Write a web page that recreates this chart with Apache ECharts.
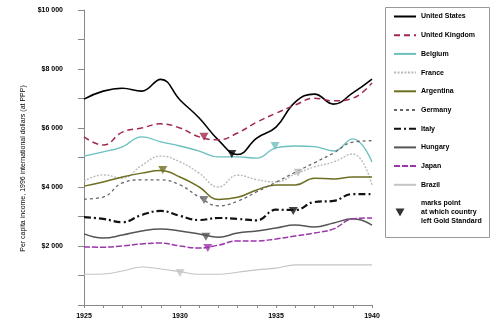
<!DOCTYPE html>
<html><head><meta charset="utf-8">
<script src="https://cdn.jsdelivr.net/npm/echarts@6/dist/echarts.min.js"></script>
<style>html,body{margin:0;padding:0;background:#fff}#c{width:500px;height:331px}</style>
</head><body><div id="c"></div>
<script>
const years = [1925,1926,1927,1928,1929,1930,1931,1932,1933,1934,1935,1936,1937,1938,1939,1940];
const unitedStates  = [6980,7250,7350,7250,7650,6950,6340,5590,5100,5660,6030,6880,7150,6810,7190,7660];
const unitedKingdom = [5700,5420,5860,6000,6140,6000,5700,5600,5830,6200,6500,6780,7010,6920,7010,7530];
const belgium       = [5050,5190,5360,5700,5530,5390,5220,5020,5020,4980,5330,5390,5370,5220,5630,4850];
const france        = [4200,4410,4300,4730,5050,4850,4470,4000,4400,4250,4170,4440,4680,4850,5120,4070];
const argentina     = [4030,4170,4340,4470,4560,4340,4000,3580,3650,3900,4070,4070,4300,4270,4340,4340];
const germany       = [3590,3660,4140,4240,4240,4070,3660,3360,3520,3840,4160,4500,4820,5150,5520,5570];
const italy         = [2980,2920,2810,3050,3190,3020,2880,2950,2920,2870,3230,3220,3490,3530,3760,3760];
const hungary       = [2410,2270,2370,2510,2580,2510,2410,2300,2440,2510,2610,2710,2640,2780,2920,2710];
const japan         = [1970,1960,2000,2070,2100,2000,1930,2030,2170,2170,2240,2340,2440,2580,2920,2950];
const brazil        = [1040,1050,1150,1290,1220,1130,1040,1040,1110,1190,1250,1360,1360,1360,1360,1360];

const seriesNames = ['United States','United Kingdom','Belgium','France','Argentina','Germany','Italy','Hungary','Japan','Brazil'];
const goldName = 'gold';
const goldLabel = 'marks point\nat which country\nleft Gold Standard';
const goldYears  = [1932.7, 1931.25, 1934.95, 1936.15, 1929.1, 1931.25, 1935.9, 1931.35, 1931.45, 1930.0];
const goldValues = [5120, 5700, 5390, 4480, 4580, 3560, 3190, 2310, 1930, 1085];

const xTickLabels = [1925, 1930, 1935, 1940];
const yTickLabels = [2000, 4000, 6000, 8000, 10000];

const allValues = [unitedStates, unitedKingdom, belgium, france, argentina, germany, italy, hungary, japan, brazil];
const styles = [
  {color:'#000000', width:1.6, type:'solid'},
  {color:'#a0284a', width:1.5, type:[6,4]},
  {color:'#6cbfbf', width:1.3, type:'solid'},
  {color:'#b8b8b8', width:1.3, type:[2,1.5]},
  {color:'#6e6e22', width:1.5, type:'solid'},
  {color:'#666666', width:1.3, type:[3,3]},
  {color:'#111111', width:2.2, type:[7,3,2,3]},
  {color:'#555555', width:1.5, type:'solid'},
  {color:'#9a35aa', width:1.5, type:[6,2]},
  {color:'#c4c4c4', width:1.1, type:'solid'}
];

const series = seriesNames.map((n, i) => ({
  name: n, type: 'line', smooth: 0.45, symbol: 'none', z: 2,
  lineStyle: {color: styles[i].color, width: styles[i].width, type: styles[i].type},
  itemStyle: {color: styles[i].color},
  data: years.map((y, k) => [y, allValues[i][k]])
}));
series.push({
  name: goldName, type: 'scatter', symbol: 'triangle', symbolRotate: 180, symbolSize: [9, 8], z: 5,
  itemStyle: {color: '#000'},
  data: goldYears.map((y, k) => ({value: [y, goldValues[k]], itemStyle: {color: styles[k].color}}))
});

const chart = echarts.init(document.getElementById('c'));
chart.setOption({
  animation: false,
  backgroundColor: '#fff',
  textStyle: {fontFamily: 'Liberation Sans, Arial, sans-serif'},
  grid: {left: 84, right: 128, top: 10, bottom: 26},
  xAxis: {
    type: 'value', min: 1925, max: 1940, interval: 1,
    axisLine: {lineStyle: {color: '#888', width: 1}},
    axisTick: {show: true, length: 3, lineStyle: {color: '#888'}},
    splitLine: {show: false},
    axisLabel: {
      margin: 8, fontSize: 7, fontWeight: 'bold', color: '#000',
      formatter: v => xTickLabels.includes(v) ? String(v) : ''
    }
  },
  yAxis: {
    type: 'value', min: 0, max: 10000, interval: 1000,
    name: 'Per capita income, 1996 international dollars (at PPP)',
    nameLocation: 'middle', nameGap: 56,
    nameTextStyle: {fontSize: 7, color: '#000', padding: [0, 22, 0, 0]},
    axisLine: {show: true, lineStyle: {color: '#888', width: 1}},
    axisTick: {show: true, length: 6, lineStyle: {color: '#888'}},
    splitLine: {show: false},
    axisLabel: {
      margin: 21, fontSize: 7, fontWeight: 'bold', color: '#000',
      formatter: v => yTickLabels.includes(v) ? '$' + (v / 1000) + ' 000' : ''
    }
  },
  legend: {
    orient: 'vertical', left: 393, top: 12, padding: 0,
    itemWidth: 22, itemHeight: 10, itemGap: 9.7,
    textStyle: {fontSize: 7, fontWeight: 'bold', color: '#000', lineHeight: 9},
    formatter: n => n === goldName ? goldLabel : n,
    data: seriesNames.map(n => ({name: n, itemStyle: {opacity: 0}})).concat([{
      name: goldName,
      icon: 'path://M1.5,1 L10.5,1 L6,9 Z M0,0 L0.01,0 L0,0.01 Z M22,10 L21.99,10 L22,9.99 Z'
    }])
  },
  graphic: [{
    type: 'rect', left: 383, top: 5, z: 0, silent: true,
    shape: {width: 104, height: 230},
    style: {fill: 'none', stroke: '#999', lineWidth: 1}
  }],
  series: series
});
</script></body></html>
